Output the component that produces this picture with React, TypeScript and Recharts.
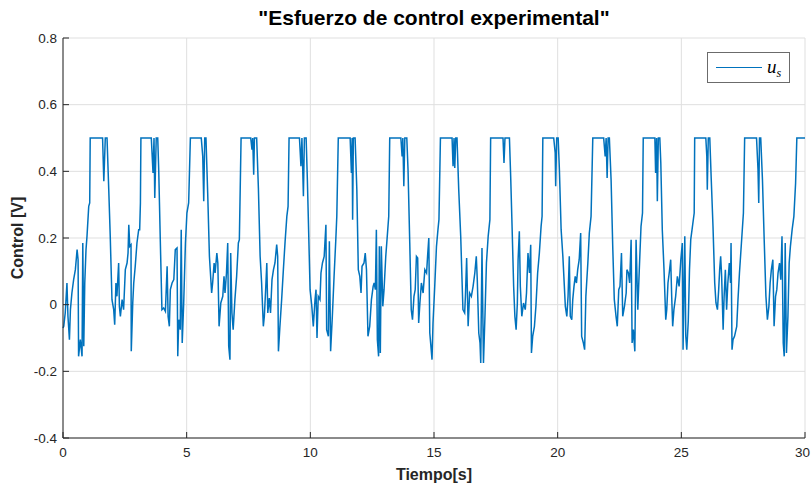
import React from 'react';
import { LineChart, Line, XAxis, YAxis, CartesianGrid, Legend } from 'recharts';

const ticksTiempo = [0, 5, 10, 15, 20, 25, 30];
const ticksControl = [-0.4, -0.2, 0, 0.2, 0.4, 0.6, 0.8];

// [tiempo (s), u_s (V)]
const muestras: [number, number][] = [
  [0.0, -0.07], [0.03, -0.065], [0.09, -0.025], [0.16, 0.065], [0.2, -0.035], [0.26, -0.105], [0.3, -0.015],
  [0.36, 0.035], [0.43, 0.075], [0.5, 0.105], [0.57, 0.165], [0.61, 0.135], [0.63, -0.155], [0.7, -0.105],
  [0.77, -0.155], [0.8, 0.185], [0.84, -0.125], [0.88, 0.065], [0.93, 0.165], [0.97, 0.205], [1.04, 0.295],
  [1.08, 0.305], [1.1, 0.5], [1.6, 0.5], [1.65, 0.37], [1.71, 0.5], [1.78, 0.5], [1.85, 0.345], [1.91, 0.205],
  [1.98, 0.015], [2.05, -0.015], [2.09, -0.06], [2.14, 0.065], [2.18, 0.025], [2.25, 0.125], [2.28, -0.005],
  [2.32, -0.035], [2.39, 0.015], [2.45, -0.015], [2.52, 0.105], [2.59, 0.125], [2.63, 0.155], [2.66, 0.24],
  [2.7, 0.175], [2.75, 0.18], [2.76, -0.14], [2.82, 0.005], [2.86, 0.065], [2.92, 0.115], [2.99, 0.185],
  [3.06, 0.225], [3.1, 0.225], [3.13, 0.305], [3.15, 0.5],
  [3.57, 0.5], [3.64, 0.395], [3.68, 0.5], [3.71, 0.32], [3.77, 0.5], [3.83, 0.5], [3.87, 0.405], [3.93, 0.205],
  [4.0, -0.015], [4.07, -0.01], [4.14, -0.02], [4.21, 0.115], [4.25, -0.035], [4.3, -0.065], [4.34, 0.045],
  [4.41, 0.065], [4.48, 0.075], [4.54, 0.165], [4.61, 0.17], [4.64, -0.155], [4.68, -0.045], [4.74, -0.075],
  [4.78, 0.225], [4.82, -0.115], [4.88, 0.005], [4.95, 0.185], [5.01, 0.275], [5.08, 0.305], [5.15, 0.5],
  [5.59, 0.5], [5.65, 0.445], [5.69, 0.31], [5.73, 0.5], [5.78, 0.5], [5.85, 0.335], [5.92, 0.145], [6.01, 0.035],
  [6.05, 0.065], [6.11, 0.125], [6.15, 0.095], [6.22, 0.155], [6.26, 0.125], [6.31, -0.065], [6.38, 0.005],
  [6.46, 0.025], [6.51, 0.085], [6.55, 0.035], [6.61, 0.095], [6.66, 0.185], [6.7, -0.125], [6.75, -0.165],
  [6.78, 0.155], [6.83, -0.025], [6.88, -0.075], [6.95, 0.015], [7.02, 0.085], [7.09, 0.185], [7.13, 0.195],
  [7.2, 0.5],
  [7.59, 0.5], [7.64, 0.465], [7.67, 0.5], [7.71, 0.39], [7.74, 0.5], [7.83, 0.5], [7.9, 0.35], [7.97, 0.145],
  [8.03, 0.065], [8.1, -0.065], [8.14, -0.035], [8.2, 0.055], [8.24, 0.125], [8.28, -0.025], [8.34, 0.02],
  [8.39, -0.025], [8.45, 0.075], [8.51, 0.105], [8.57, 0.125], [8.64, 0.18], [8.68, 0.145], [8.71, -0.14],
  [8.77, -0.065], [8.84, 0.015], [8.91, 0.105], [8.98, 0.19], [9.05, 0.265], [9.1, 0.295], [9.14, 0.5],
  [9.56, 0.5], [9.62, 0.415], [9.66, 0.5], [9.72, 0.325], [9.76, 0.5], [9.83, 0.5], [9.88, 0.375], [9.94, 0.195],
  [9.99, 0.045], [10.06, -0.005], [10.12, -0.065], [10.19, 0.015], [10.23, 0.045], [10.27, -0.1], [10.32, 0.025],
  [10.39, 0.015], [10.43, 0.095], [10.49, 0.125], [10.56, 0.145], [10.63, 0.24], [10.66, -0.075], [10.73, -0.095],
  [10.77, 0.19], [10.82, -0.14], [10.89, -0.035], [10.96, 0.085], [11.03, 0.195], [11.07, 0.265], [11.13, 0.5],
  [11.61, 0.5], [11.66, 0.395], [11.69, 0.5], [11.71, 0.255], [11.74, 0.5], [11.81, 0.5], [11.88, 0.345],
  [11.94, 0.105], [12.0, 0.085], [12.05, 0.035], [12.09, 0.115], [12.17, 0.125], [12.22, 0.155], [12.27, 0.105],
  [12.33, -0.095], [12.4, -0.065], [12.47, 0.015], [12.54, 0.055], [12.58, 0.065], [12.63, 0.045], [12.67, 0.225],
  [12.71, -0.105], [12.76, -0.155], [12.79, 0.175], [12.83, -0.145], [12.87, 0.175], [12.93, -0.005],
  [12.98, 0.045], [13.05, 0.145], [13.11, 0.205], [13.17, 0.265], [13.21, 0.5],
  [13.66, 0.5], [13.71, 0.445], [13.74, 0.5], [13.78, 0.355], [13.82, 0.5], [13.9, 0.5], [13.95, 0.405],
  [14.02, 0.185], [14.08, -0.015], [14.13, -0.045], [14.19, 0.025], [14.24, 0.045], [14.29, 0.145], [14.34, 0.14],
  [14.38, -0.055], [14.43, 0.005], [14.49, 0.065], [14.56, 0.035], [14.63, 0.105], [14.7, 0.095], [14.74, 0.145],
  [14.79, 0.2], [14.83, -0.085], [14.87, -0.12], [14.92, -0.165], [14.96, -0.055], [15.03, 0.055], [15.1, 0.175],
  [15.16, 0.225], [15.2, 0.255], [15.26, 0.5],
  [15.73, 0.5], [15.77, 0.415], [15.81, 0.5], [15.84, 0.41], [15.88, 0.5], [15.93, 0.5], [16.0, 0.345],
  [16.08, 0.205], [16.17, -0.015], [16.24, -0.025], [16.27, 0.025], [16.32, 0.14], [16.38, -0.065], [16.44, 0.035],
  [16.51, 0.025], [16.58, 0.055], [16.65, 0.095], [16.71, 0.145], [16.75, 0.075], [16.81, -0.085], [16.86, -0.115],
  [16.89, -0.175], [16.94, 0.17], [17.0, -0.175], [17.06, -0.035], [17.12, 0.125], [17.19, 0.205], [17.26, 0.255],
  [17.29, 0.5],
  [17.79, 0.5], [17.83, 0.425], [17.87, 0.5], [18.05, 0.5], [18.1, 0.385], [18.16, 0.225], [18.22, 0.055],
  [18.27, -0.035], [18.32, -0.075], [18.37, 0.005], [18.4, 0.135], [18.45, 0.22], [18.49, 0.055], [18.55, -0.035],
  [18.62, 0.005], [18.69, -0.015], [18.74, 0.035], [18.8, 0.155], [18.86, 0.095], [18.91, 0.18], [18.94, -0.145],
  [18.99, -0.095], [19.06, -0.065], [19.12, -0.005], [19.19, 0.095], [19.26, 0.155], [19.33, 0.235],
  [19.37, 0.265], [19.4, 0.5],
  [19.84, 0.5], [19.9, 0.455], [19.92, 0.355], [19.96, 0.5], [20.02, 0.5], [20.07, 0.405], [20.14, 0.225],
  [20.21, 0.145], [20.27, 0.055], [20.31, -0.005], [20.37, -0.035], [20.42, 0.025], [20.47, 0.145], [20.51, -0.035],
  [20.57, -0.045], [20.61, 0.015], [20.66, 0.055], [20.71, 0.085], [20.76, 0.065], [20.81, 0.105], [20.87, 0.135],
  [20.93, 0.215], [20.97, -0.095], [21.04, -0.115], [21.09, -0.135], [21.14, 0.025], [21.22, 0.125], [21.28, 0.215],
  [21.35, 0.265], [21.42, 0.5],
  [21.86, 0.5], [21.92, 0.445], [21.96, 0.5], [22.0, 0.38], [22.04, 0.5], [22.09, 0.5], [22.16, 0.375],
  [22.23, 0.165], [22.29, 0.015], [22.36, -0.035], [22.41, -0.065], [22.47, 0.045], [22.52, 0.055], [22.58, 0.155],
  [22.63, -0.035], [22.7, -0.005], [22.77, 0.035], [22.8, 0.105], [22.86, 0.095], [22.91, 0.065], [22.97, 0.195],
  [23.01, -0.115], [23.06, -0.075], [23.12, -0.14], [23.17, 0.195], [23.24, -0.015], [23.3, 0.105], [23.37, 0.235],
  [23.43, 0.275], [23.46, 0.5],
  [23.93, 0.5], [23.96, 0.395], [24.0, 0.5], [24.03, 0.31], [24.07, 0.5], [24.13, 0.5], [24.17, 0.425],
  [24.23, 0.225], [24.3, 0.105], [24.37, -0.045], [24.41, -0.015], [24.46, 0.065], [24.51, 0.095], [24.57, 0.135],
  [24.61, 0.025], [24.65, -0.065], [24.7, -0.015], [24.77, 0.025], [24.84, 0.085], [24.91, 0.055], [24.98, 0.135],
  [25.04, 0.185], [25.07, -0.135], [25.14, 0.205], [25.18, -0.095], [25.22, -0.135], [25.28, -0.05], [25.33, 0.105],
  [25.38, 0.195], [25.45, 0.235], [25.52, 0.275], [25.54, 0.5],
  [25.99, 0.5], [26.03, 0.445], [26.05, 0.345], [26.09, 0.5], [26.15, 0.5], [26.21, 0.375], [26.28, 0.235],
  [26.35, 0.065], [26.4, 0.005], [26.46, -0.015], [26.51, 0.045], [26.55, 0.105], [26.59, 0.145], [26.63, 0.085],
  [26.69, -0.075], [26.73, 0.025], [26.78, 0.105], [26.83, -0.015], [26.88, 0.065], [26.94, 0.125], [26.99, 0.065],
  [27.01, 0.185], [27.05, -0.135], [27.09, -0.105], [27.15, -0.095], [27.24, -0.065], [27.29, 0.015], [27.35, 0.095],
  [27.43, 0.185], [27.51, 0.275], [27.56, 0.5],
  [28.04, 0.5], [28.1, 0.405], [28.13, 0.305], [28.16, 0.5], [28.21, 0.5], [28.28, 0.375], [28.35, 0.195],
  [28.42, 0.025], [28.48, -0.045], [28.54, -0.005], [28.59, 0.065], [28.64, 0.105], [28.7, 0.135], [28.75, -0.065],
  [28.81, 0.025], [28.86, 0.045], [28.91, 0.095], [28.97, 0.125], [29.02, 0.075], [29.07, 0.205], [29.12, -0.115],
  [29.16, -0.155], [29.2, 0.185], [29.25, -0.145], [29.31, -0.035], [29.36, 0.125], [29.41, 0.175], [29.48, 0.225],
  [29.55, 0.265], [29.62, 0.365], [29.67, 0.5], [30.0, 0.5],
];

const datos = muestras.map(([t, u]) => ({ t, u }));

const FUENTE = '"Liberation Sans", Arial, Helvetica, sans-serif';
const EJE = '#262626';
const AZUL = '#0072BD';

const tickStyle = { fill: EJE, fontSize: 13.5, fontFamily: FUENTE };

// etiqueta del eje X; la última se pega al borde derecho para que no se corte
const TickTiempo = (props: any) => {
  const { x, y, payload } = props;
  const ultimo = payload.value === ticksTiempo[ticksTiempo.length - 1];
  return (
    <text
      x={ultimo ? 810 : x}
      y={y}
      dy="0.71em"
      textAnchor={ultimo ? 'end' : 'middle'}
      fill={EJE}
      fontSize={13.5}
      fontFamily={FUENTE}
    >
      {payload.value}
    </text>
  );
};

const LeyendaUs = () => (
  <div
    style={{
      position: 'absolute',
      left: 707,
      top: 52,
      width: 81,
      height: 29,
      border: '1px solid #6b6b6b',
      background: '#fff',
      display: 'flex',
      alignItems: 'center',
      boxSizing: 'content-box',
    }}
  >
    <div style={{ marginLeft: 8, width: 46, height: 0, borderTop: `1.5px solid ${AZUL}` }} />
    <span
      style={{
        marginLeft: 5,
        fontFamily: '"Liberation Serif", "DejaVu Serif", serif',
        fontStyle: 'italic',
        fontSize: 19,
        color: '#000',
        lineHeight: 1,
      }}
    >
      u<sub style={{ fontSize: 12, verticalAlign: -4 }}>s</sub>
    </span>
  </div>
);

export default function App() {
  return (
    <div style={{ position: 'absolute', left: 0, top: 0, width: 811, height: 486, background: '#fff' }}>
      <LineChart
        width={811}
        height={486}
        data={datos}
        margin={{ top: 38, right: 6, bottom: 18, left: 13 }}
      >
        <CartesianGrid stroke="#dfdfdf" strokeWidth={1} />
        <XAxis
          dataKey="t"
          type="number"
          domain={[0, 30]}
          ticks={ticksTiempo}
          height={30}
          stroke={EJE}
          tick={<TickTiempo />}
          tickSize={-6}
          tickMargin={15}
          interval={0}
        />
        <XAxis
          xAxisId="arriba"
          orientation="top"
          type="number"
          domain={[0, 30]}
          ticks={ticksTiempo}
          height={0}
          stroke={EJE}
          tick={false}
          tickSize={-6}
        />
        <YAxis
          type="number"
          domain={[-0.4, 0.8]}
          ticks={ticksControl}
          width={50}
          stroke={EJE}
          tick={tickStyle}
          tickSize={-6}
          tickMargin={12}
          interval={0}
          allowDataOverflow
        />
        <YAxis
          yAxisId="derecha"
          orientation="right"
          type="number"
          domain={[-0.4, 0.8]}
          ticks={ticksControl}
          width={0}
          stroke={EJE}
          tick={false}
          tickSize={-6}
          allowDataOverflow
        />
        <Legend
          layout="vertical"
          align="center"
          verticalAlign="middle"
          wrapperStyle={{ position: 'absolute', left: 0, top: 0, width: 0, height: 0 }}
          content={() => <LeyendaUs />}
        />
        <Line
          type="linear"
          dataKey="u"
          name="u_s"
          stroke={AZUL}
          strokeWidth={1.5}
          dot={false}
          activeDot={false}
          isAnimationActive={false}
        />
      </LineChart>
      <div
        style={{
          position: 'absolute',
          left: 184,
          width: 500,
          top: 6,
          textAlign: 'center',
          fontFamily: FUENTE,
          fontWeight: 'bold',
          fontSize: 21,
          color: '#000',
          whiteSpace: 'nowrap',
        }}
      >
        "Esfuerzo de control experimental"
      </div>
      <div
        style={{
          position: 'absolute',
          left: 334,
          width: 200,
          top: 466,
          textAlign: 'center',
          fontFamily: FUENTE,
          fontWeight: 'bold',
          fontSize: 16,
          color: EJE,
        }}
      >
        Tiempo[s]
      </div>
      <div
        style={{
          position: 'absolute',
          left: 18,
          top: 238,
          transform: 'translate(-50%, -50%) rotate(-90deg)',
          fontFamily: FUENTE,
          fontWeight: 'bold',
          fontSize: 16,
          color: EJE,
          whiteSpace: 'nowrap',
        }}
      >
        Control [V]
      </div>
    </div>
  );
}
